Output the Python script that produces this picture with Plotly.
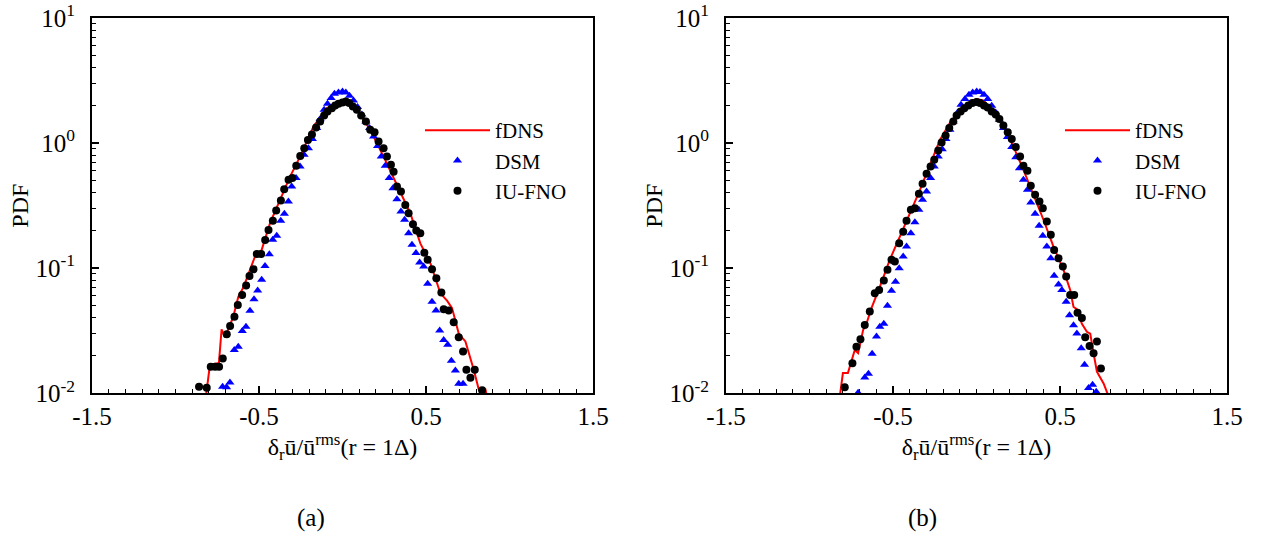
import plotly.graph_objects as go

# ---------- panel (a) ----------
a_fdns_x = [-0.822, -0.794, -0.740, -0.724, -0.704, -0.654, -0.624, -0.594, -0.524, -0.484,
            -0.434, -0.374, -0.314, -0.254, -0.174, -0.094, -0.040, 0.000, 0.040, 0.086,
            0.166, 0.246, 0.326, 0.406, 0.466, 0.526, 0.586, 0.626, 0.656, 0.696,
            0.736, 0.786, 0.816, 0.856, 0.872]
a_fdns_y = [0.0085, 0.0169, 0.0175, 0.0325, 0.028, 0.041, 0.059, 0.070, 0.124, 0.140,
            0.229, 0.352, 0.54, 0.78, 1.36, 1.90, 2.10, 2.15, 2.10, 1.85,
            1.28, 0.78, 0.46, 0.275, 0.158, 0.110, 0.063, 0.055, 0.048, 0.030,
            0.026, 0.0154, 0.0107, 0.0107, 0.0085]

a_dsm_x = [-0.718, -0.694, -0.674, -0.648, -0.624, -0.600, -0.578, -0.554, -0.530, -0.508,
           -0.484, -0.464, -0.438, -0.418, -0.394, -0.370, -0.348, -0.324, -0.304, -0.278,
           -0.254, -0.230, -0.204, -0.180, -0.154, -0.134, -0.110, -0.090, -0.068, -0.048,
           -0.024, 0.000, 0.020, 0.042, 0.066, 0.090, 0.116, 0.140, 0.162, 0.186,
           0.210, 0.232, 0.256, 0.280, 0.302, 0.326, 0.350, 0.372, 0.396, 0.416,
           0.440, 0.462, 0.486, 0.510, 0.536, 0.560, 0.582, 0.606, 0.630, 0.652,
           0.676, 0.696, 0.722]
a_dsm_y = [0.0113, 0.0112, 0.0122, 0.0222, 0.0236, 0.0315, 0.0341, 0.0458, 0.0565, 0.0662,
           0.0807, 0.104, 0.129, 0.169, 0.182, 0.239, 0.272, 0.341, 0.45, 0.525,
           0.65, 0.807, 0.91, 1.08, 1.32, 1.56, 1.85, 2.06, 2.29, 2.48,
           2.54, 2.59, 2.54, 2.39, 2.19, 1.94, 1.69, 1.49, 1.32, 1.13,
           0.95, 0.78, 0.66, 0.525, 0.436, 0.356, 0.284, 0.244, 0.19, 0.154,
           0.132, 0.111, 0.103, 0.075, 0.054, 0.046, 0.0317, 0.0267, 0.0244, 0.0182,
           0.0152, 0.0119, 0.0119]

a_iufno_x = [-0.859, -0.813, -0.789, -0.763, -0.739, -0.717, -0.693, -0.673, -0.647, -0.627,
             -0.601, -0.577, -0.557, -0.533, -0.513, -0.487, -0.463, -0.443, -0.417, -0.397,
             -0.369, -0.349, -0.323, -0.300, -0.277, -0.253, -0.229, -0.207, -0.183, -0.158,
             -0.134, -0.110, -0.090, -0.064, -0.044, -0.024, 0.000, 0.020, 0.040, 0.062,
             0.086, 0.112, 0.140, 0.166, 0.192, 0.216, 0.246, 0.266, 0.290, 0.306,
             0.326, 0.350, 0.376, 0.396, 0.422, 0.442, 0.466, 0.490, 0.510, 0.536,
             0.562, 0.592, 0.606, 0.636, 0.666, 0.696, 0.722, 0.742, 0.766, 0.792,
             0.836]
a_iufno_y = [0.0113, 0.0111, 0.0163, 0.0163, 0.0163, 0.019, 0.0296, 0.0345, 0.041, 0.0508,
             0.061, 0.0726, 0.0867, 0.098, 0.13, 0.13, 0.168, 0.202, 0.24, 0.289,
             0.347, 0.428, 0.51, 0.525, 0.66, 0.79, 0.91, 1.06, 1.17, 1.33,
             1.49, 1.66, 1.79, 1.90, 2.00, 2.06, 2.11, 2.15, 2.09, 1.96,
             1.85, 1.66, 1.49, 1.28, 1.22, 1.03, 0.91, 0.78, 0.67, 0.59,
             0.45, 0.41, 0.32, 0.275, 0.225, 0.20, 0.19, 0.133, 0.117, 0.098,
             0.083, 0.064, 0.047, 0.046, 0.037, 0.028, 0.0216, 0.0154, 0.0133, 0.0154,
             0.0106]

# ---------- panel (b) ----------
b_fdns_x = [-0.823, -0.800, -0.770, -0.729, -0.709, -0.699, -0.679, -0.659, -0.629, -0.579,
            -0.519, -0.459, -0.399, -0.339, -0.279, -0.219, -0.159, -0.099, -0.039, 0.000,
            0.041, 0.101, 0.161, 0.221, 0.281, 0.341, 0.401, 0.461, 0.521, 0.561,
            0.581, 0.601, 0.631, 0.661, 0.681, 0.701, 0.721, 0.761, 0.800]
b_fdns_y = [0.0085, 0.0145, 0.0145, 0.0222, 0.021, 0.024, 0.032, 0.036, 0.048, 0.071,
            0.117, 0.179, 0.275, 0.42, 0.67, 1.06, 1.45, 1.85, 2.15, 2.25,
            2.19, 1.79, 1.40, 0.94, 0.61, 0.39, 0.244, 0.149, 0.097, 0.067,
            0.049, 0.047, 0.036, 0.031, 0.030, 0.0209, 0.0149, 0.012, 0.0088]

b_dsm_x = [-0.709, -0.669, -0.647, -0.625, -0.599, -0.579, -0.555, -0.533, -0.509, -0.485,
           -0.463, -0.439, -0.419, -0.393, -0.369, -0.345, -0.323, -0.299, -0.275, -0.253,
           -0.229, -0.205, -0.183, -0.159, -0.139, -0.115, -0.093, -0.069, -0.045, -0.023,
           0.001, 0.021, 0.045, 0.067, 0.091, 0.115, 0.137, 0.161, 0.185, 0.211,
           0.235, 0.257, 0.281, 0.305, 0.325, 0.351, 0.375, 0.397, 0.421, 0.445,
           0.465, 0.491, 0.511, 0.537, 0.557, 0.581, 0.601, 0.627, 0.647, 0.671,
           0.695, 0.717]
b_dsm_y = [0.0101, 0.0134, 0.0143, 0.0207, 0.0284, 0.034, 0.0359, 0.050, 0.066, 0.078,
           0.100, 0.124, 0.149, 0.19, 0.233, 0.293, 0.352, 0.41, 0.525, 0.65,
           0.78, 0.895, 1.08, 1.28, 1.49, 1.74, 2.03, 2.25, 2.44, 2.54,
           2.59, 2.56, 2.44, 2.25, 1.99, 1.76, 1.54, 1.32, 1.12, 0.93,
           0.77, 0.63, 0.509, 0.424, 0.335, 0.272, 0.218, 0.182, 0.149, 0.120,
           0.087, 0.074, 0.067, 0.054, 0.042, 0.035, 0.030, 0.0229, 0.0169, 0.0110,
           0.0117, 0.0103]

b_iufno_x = [-0.789, -0.743, -0.719, -0.695, -0.669, -0.639, -0.609, -0.583, -0.555, -0.533,
             -0.509, -0.489, -0.463, -0.439, -0.419, -0.393, -0.369, -0.345, -0.323, -0.299,
             -0.275, -0.253, -0.229, -0.209, -0.185, -0.163, -0.139, -0.119, -0.095, -0.073,
             -0.049, -0.025, 0.001, 0.021, 0.045, 0.067, 0.091, 0.115, 0.137, 0.161,
             0.187, 0.211, 0.235, 0.261, 0.281, 0.305, 0.325, 0.351, 0.377, 0.397,
             0.421, 0.445, 0.465, 0.491, 0.517, 0.537, 0.561, 0.585, 0.605, 0.631,
             0.651, 0.677, 0.701, 0.721, 0.745]
b_iufno_y = [0.0112, 0.0174, 0.0236, 0.027, 0.0352, 0.045, 0.063, 0.067, 0.0796, 0.097,
             0.117, 0.113, 0.158, 0.196, 0.24, 0.293, 0.302, 0.394, 0.473, 0.569,
             0.65, 0.736, 0.873, 1.01, 1.15, 1.32, 1.49, 1.66, 1.79, 1.90,
             2.00, 2.09, 2.13, 2.09, 2.00, 1.93, 1.79, 1.69, 1.56, 1.38,
             1.22, 1.08, 0.93, 0.78, 0.66, 0.60, 0.456, 0.386, 0.341, 0.302,
             0.236, 0.185, 0.14, 0.12, 0.103, 0.086, 0.061, 0.061, 0.044, 0.040,
             0.028, 0.0239, 0.0209, 0.0259, 0.0158]

# ---------- axis tick definitions ----------
x_tick_vals = [-1.5, -0.5, 0.5, 1.5]
x_tick_text = ["-1.5", "-0.5", "0.5", "1.5"]
y_tick_vals = [0.01, 0.1, 1, 10]
y_tick_text = ["10<sup>-2</sup>", "10<sup>-1</sup>", "10<sup>0</sup>", "10<sup>1</sup>"]
y_minor_vals = [k * 10.0 ** e for e in (-2, -1, 0) for k in range(2, 10)]
x_minor_vals = [round(-1.5 + 0.1 * i, 2) for i in range(31)]

FONT = "Liberation Serif"
W, H = 1261, 537

fig = go.Figure()


def add_panel(xa, ya, leg, fx, fy, dx, dy, ix, iy):
    fig.add_trace(go.Scatter(x=fx, y=fy, mode="lines", name="fDNS",
                             line=dict(color="#ff0000", width=2),
                             xaxis=xa, yaxis=ya, legend=leg))
    fig.add_trace(go.Scatter(x=dx, y=dy, mode="markers", name="DSM",
                             marker=dict(symbol="triangle-up", color="#0000ff", size=8),
                             xaxis=xa, yaxis=ya, legend=leg))
    fig.add_trace(go.Scatter(x=ix, y=iy, mode="markers", name="IU-FNO",
                             marker=dict(symbol="circle", color="#000000", size=8),
                             xaxis=xa, yaxis=ya, legend=leg))


add_panel("x", "y", "legend", a_fdns_x, a_fdns_y, a_dsm_x, a_dsm_y, a_iufno_x, a_iufno_y)
add_panel("x2", "y2", "legend2", b_fdns_x, b_fdns_y, b_dsm_x, b_dsm_y, b_iufno_x, b_iufno_y)

y_dom = [1 - 393.3 / H, 1 - 18 / H]
x_dom_a = [92 / W, 593 / W]
x_dom_b = [726 / W, 1227 / W]

x_title = "δ<sub>r</sub>ū/ū<sup>rms</sup>(r = 1Δ)"


def xaxis_cfg(dom, anchor):
    return dict(domain=dom, anchor=anchor, range=[-1.5, 1.5], automargin=False,
                tickvals=x_tick_vals, ticktext=x_tick_text,
                ticks="inside", ticklen=7, tickwidth=1.5, tickcolor="black",
                ticklabelstandoff=0,
                minor=dict(tickvals=x_minor_vals, ticks="inside", ticklen=4,
                           tickwidth=1.2, tickcolor="black"),
                showline=True, linecolor="black", linewidth=2, mirror=True,
                showgrid=False, zeroline=False,
                tickfont=dict(family=FONT, size=25, color="black"),
                title=dict(text=x_title, font=dict(family=FONT, size=24, color="black"),
                           standoff=0))


def yaxis_cfg(dom, anchor):
    return dict(domain=dom, anchor=anchor, type="log", range=[-2, 1], automargin=False,
                tickvals=y_tick_vals, ticktext=y_tick_text,
                ticks="inside", ticklen=7, tickwidth=1.5, tickcolor="black",
                ticklabelstandoff=10,
                minor=dict(tickvals=y_minor_vals, ticks="inside", ticklen=4,
                           tickwidth=1.2, tickcolor="black"),
                showline=True, linecolor="black", linewidth=2, mirror=True,
                showgrid=False, zeroline=False,
                tickfont=dict(family=FONT, size=25, color="black"),
                title=dict(text="PDF", font=dict(family=FONT, size=24, color="black"),
                           standoff=0))


legend_style = dict(font=dict(family=FONT, size=21, color="black"),
                    bgcolor="rgba(0,0,0,0)", borderwidth=0,
                    xanchor="left", yanchor="top", itemwidth=65)

caption_font = dict(family=FONT, size=25, color="black")

fig.update_layout(
    width=W, height=H,
    margin=dict(l=0, r=0, t=0, b=0),
    paper_bgcolor="white", plot_bgcolor="white",
    font=dict(family=FONT, color="black", size=22),
    xaxis=xaxis_cfg(x_dom_a, "y"),
    yaxis=yaxis_cfg(y_dom, "x"),
    xaxis2=xaxis_cfg(x_dom_b, "y2"),
    yaxis2=yaxis_cfg(y_dom, "x2"),
    legend=dict(x=420 / W, y=1 - 110 / H, **legend_style),
    legend2=dict(x=1060 / W, y=1 - 110 / H, **legend_style),
    annotations=[
        dict(text="(a)", x=311 / W, y=1 - 518 / H, xref="paper", yref="paper",
             xanchor="center", yanchor="middle", showarrow=False, font=caption_font),
        dict(text="(b)", x=922 / W, y=1 - 518 / H, xref="paper", yref="paper",
             xanchor="center", yanchor="middle", showarrow=False, font=caption_font),
    ],
)

fig.write_html("out.html")
